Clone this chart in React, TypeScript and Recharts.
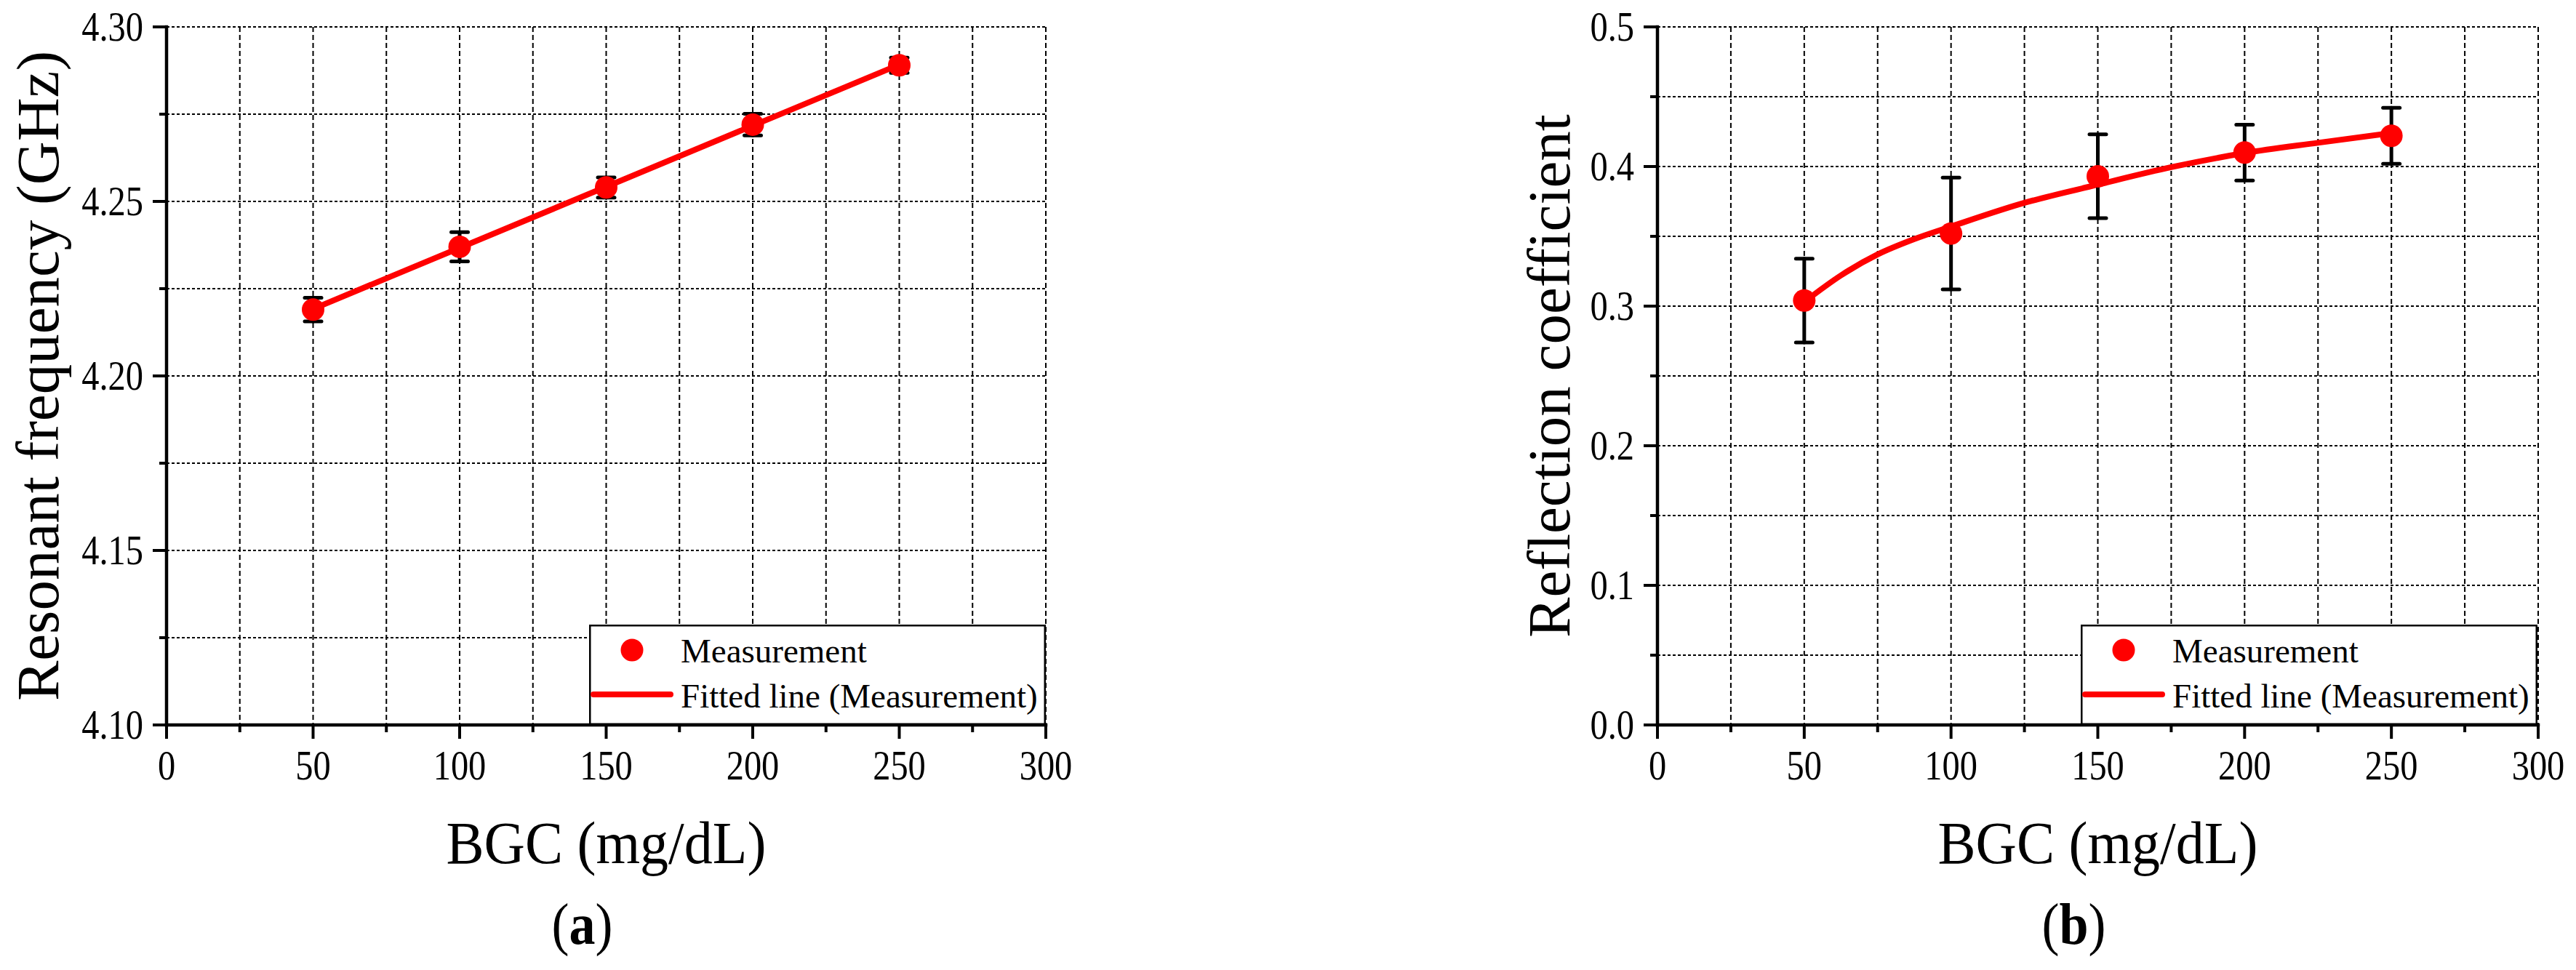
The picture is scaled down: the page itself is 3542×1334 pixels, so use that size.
import React from 'react';
import { ComposedChart, Line, Scatter, ErrorBar, XAxis, YAxis, CartesianGrid, Legend, Label } from 'recharts';

const FONT = '"Liberation Serif", "Times New Roman", Times, serif';
const RED = '#ff0000';

// BGC (mg/dL) where measurements were taken
const bgc = [50, 100, 150, 200, 250];

// (a) resonant frequency (GHz)
const freqMeas = [4.219, 4.237, 4.254, 4.272, 4.289];
const freqErr = [0.0034, 0.0042, 0.0029, 0.0031, 0.0022];
const freqFitX = [50, 250];
const freqFit = [4.2192, 4.2892];

// (b) reflection coefficient
const reflMeas = [0.304, 0.352, 0.393, 0.41, 0.422];
const reflErr = [0.03, 0.04, 0.03, 0.02, 0.02];
const reflFitX = [50, 62.5, 75, 87.5, 100, 125, 150, 175, 200, 225, 250];
const reflFit = [0.303, 0.322, 0.337, 0.348, 0.357, 0.374, 0.387, 0.3995, 0.4096, 0.417, 0.424];

// ticks (major, minor alternating)
const xTicks = [0, 25, 50, 75, 100, 125, 150, 175, 200, 225, 250, 275, 300];
const freqTicks = [4.1, 4.125, 4.15, 4.175, 4.2, 4.225, 4.25, 4.275, 4.3];
const reflTicks = [0, 0.05, 0.1, 0.15, 0.2, 0.25, 0.3, 0.35, 0.4, 0.45, 0.5];

const legendLabels = ['Measurement', 'Fitted line (Measurement)'];

const freqData = bgc.map((x, i) => ({ x, y: freqMeas[i], err: freqErr[i] }));
const freqFitData = freqFitX.map((x, i) => ({ x, y: freqFit[i] }));
const reflData = bgc.map((x, i) => ({ x, y: reflMeas[i], err: reflErr[i] }));
const reflFitData = reflFitX.map((x, i) => ({ x, y: reflFit[i] }));

const CHART_H = 1334;

function renderTick(p: any, side: string, fmt?: (v: number) => string) {
  const { x, y, index, payload } = p;
  const major = index % 2 === 0;
  const len = major ? 19 : 10;
  const ln = { stroke: '#000', strokeWidth: 4 };
  const label = major && fmt ? fmt(payload.value) : null;
  if (side === 'bottom') {
    return (
      <g>
        <line x1={x} y1={y} x2={x} y2={y + len} {...ln} />
        {label && (
          <text transform={`translate(${x},${y + 75}) scale(0.85,1)`} textAnchor="middle" fontSize={57} fontFamily={FONT} fill="#000">
            {label}
          </text>
        )}
      </g>
    );
  }
  if (side === 'left') {
    return (
      <g>
        <line x1={x - len} y1={y} x2={x} y2={y} {...ln} />
        {label && (
          <text transform={`translate(${x - 32},${y + 19}) scale(0.85,1)`} textAnchor="end" fontSize={57} fontFamily={FONT} fill="#000">
            {label}
          </text>
        )}
      </g>
    );
  }
  if (side === 'top') return <line x1={x} y1={y} x2={x} y2={y + len} {...ln} />;
  return <line x1={x - len} y1={y} x2={x} y2={y} {...ln} />;
}

function LegendBox() {
  return (
    <svg width={628} height={138} style={{ display: 'block' }}>
      <rect x={1.25} y={1.25} width={625.5} height={135.5} fill="#fff" stroke="#000" strokeWidth={2.5} />
      <circle cx={59} cy={35} r={15.5} fill={RED} />
      <text x={126} y={52} fontSize={47} fontFamily={FONT} fill="#000">{legendLabels[0]}</text>
      <line x1={6} y1={96} x2={112} y2={96} stroke={RED} strokeWidth={8} strokeLinecap="round" />
      <text x={126} y={114} fontSize={47} fontFamily={FONT} fill="#000">{legendLabels[1]}</text>
    </svg>
  );
}

interface PanelProps {
  left: number;
  width: number;
  marginLeft: number;
  marginRight: number;
  meas: { x: number; y: number; err: number }[];
  fit: { x: number; y: number }[];
  fitType: 'linear' | 'monotone';
  yTicks: number[];
  yFmt: (v: number) => string;
  yTitle: string;
  yTitleGap: number;
  letter: string;
  legendLeft: number;
}

function Panel(props: PanelProps) {
  const { left, width, marginLeft, marginRight, meas, fit, fitType, yTicks, yFmt, yTitle, yTitleGap, letter, legendLeft } = props;
  const yDomain = [yTicks[0], yTicks[yTicks.length - 1]];
  const axisLine = { stroke: '#000', strokeWidth: 4.5, strokeLinecap: 'square' as const };
  return (
    <div style={{ position: 'absolute', left, top: 0 }}>
      <ComposedChart width={width} height={CHART_H} margin={{ top: 37, right: marginRight, bottom: 257, left: marginLeft }}>
        <CartesianGrid xAxisId="b" yAxisId="l" vertical={false} stroke="#000" strokeWidth={2} strokeDasharray="4 3" />
        <CartesianGrid xAxisId="b" yAxisId="l" horizontal={false} stroke="#000" strokeWidth={2} strokeDasharray="7 4" />
        <XAxis
          xAxisId="b"
          dataKey="x"
          type="number"
          domain={[0, 300]}
          allowDataOverflow
          ticks={xTicks}
          interval={0}
          height={80}
          tickSize={0}
          tickMargin={0}
          tickLine={false}
          axisLine={axisLine}
          tick={(p: any) => renderTick(p, 'bottom', (v) => String(v))}
        >
          <Label
            content={(p: any) => {
              const vb = p.viewBox;
              const cx = vb.x + vb.width / 2;
              return (
                <g>
                  <text transform={`translate(${cx},${vb.y + 190}) scale(0.94,1)`} textAnchor="middle" fontSize={83} fontFamily={FONT} fill="#000">
                    BGC (mg/dL)
                  </text>
                  <text transform={`translate(${cx - 33},${vb.y + 301}) scale(0.9,1)`} textAnchor="middle" fontSize={80} fontFamily={FONT} fill="#000">
                    (<tspan fontWeight="bold">{letter}</tspan>)
                  </text>
                </g>
              );
            }}
          />
        </XAxis>
        <XAxis
          xAxisId="t"
          orientation="top"
          dataKey="x"
          type="number"
          domain={[0, 300]}
          allowDataOverflow
          ticks={xTicks}
          interval={0}
          height={0}
          tickSize={0}
          tickMargin={0}
          tickLine={false}
          axisLine={axisLine}
          tick={(p: any) => renderTick(p, 'top')}
        />
        <YAxis
          yAxisId="l"
          dataKey="y"
          type="number"
          domain={yDomain}
          allowDataOverflow
          ticks={yTicks}
          interval={0}
          width={110}
          tickSize={0}
          tickMargin={0}
          tickLine={false}
          axisLine={axisLine}
          tick={(p: any) => renderTick(p, 'left', yFmt)}
        >
          <Label
            content={(p: any) => {
              const vb = p.viewBox;
              const bx = vb.x + vb.width - yTitleGap;
              const cy = vb.y + vb.height / 2;
              return (
                <text transform={`translate(${bx},${cy}) rotate(-90)`} textAnchor="middle" fontSize={83} fontFamily={FONT} fill="#000">
                  {yTitle}
                </text>
              );
            }}
          />
        </YAxis>
        <YAxis
          yAxisId="r"
          orientation="right"
          type="number"
          domain={yDomain}
          allowDataOverflow
          ticks={yTicks}
          interval={0}
          width={0}
          tickSize={0}
          tickMargin={0}
          tickLine={false}
          axisLine={axisLine}
          tick={(p: any) => renderTick(p, 'right')}
        />
        <Line
          xAxisId="b"
          yAxisId="l"
          data={fit}
          dataKey="y"
          name={legendLabels[1]}
          type={fitType}
          stroke={RED}
          strokeWidth={8}
          dot={false}
          activeDot={false}
          isAnimationActive={false}
        />
        <Scatter
          xAxisId="b"
          yAxisId="l"
          data={meas}
          dataKey="y"
          name={legendLabels[0]}
          fill={RED}
          isAnimationActive={false}
          shape={(s: any) => <circle cx={s.cx} cy={s.cy} r={15.5} fill={RED} />}
        >
          <ErrorBar dataKey="err" direction="y" width={11.5} stroke="#000" strokeWidth={5} strokeLinecap="round" isAnimationActive={false} />
        </Scatter>
        <Legend
          layout="vertical"
          align="center"
          verticalAlign="middle"
          wrapperStyle={{ left: legendLeft, top: 859, width: 628, height: 138, right: 'auto', bottom: 'auto' }}
          content={() => <LegendBox />}
        />
      </ComposedChart>
    </div>
  );
}

export default function App() {
  return (
    <div style={{ position: 'absolute', left: 0, top: 0, width: 3542, height: CHART_H, background: '#fff', fontFamily: FONT }}>
      <Panel
        left={0}
        width={1540}
        marginLeft={119}
        marginRight={102}
        meas={freqData}
        fit={freqFitData}
        fitType="linear"
        yTicks={freqTicks}
        yFmt={(v) => v.toFixed(2)}
        yTitle="Resonant frequency (GHz)"
        yTitleGap={149}
        letter="a"
        legendLeft={810}
      />
      <Panel
        left={1770}
        width={1772}
        marginLeft={399}
        marginRight={52}
        meas={reflData}
        fit={reflFitData}
        fitType="monotone"
        yTicks={reflTicks}
        yFmt={(v) => v.toFixed(1)}
        yTitle="Reflection coefficient"
        yTitleGap={121}
        letter="b"
        legendLeft={1091}
      />
    </div>
  );
}
